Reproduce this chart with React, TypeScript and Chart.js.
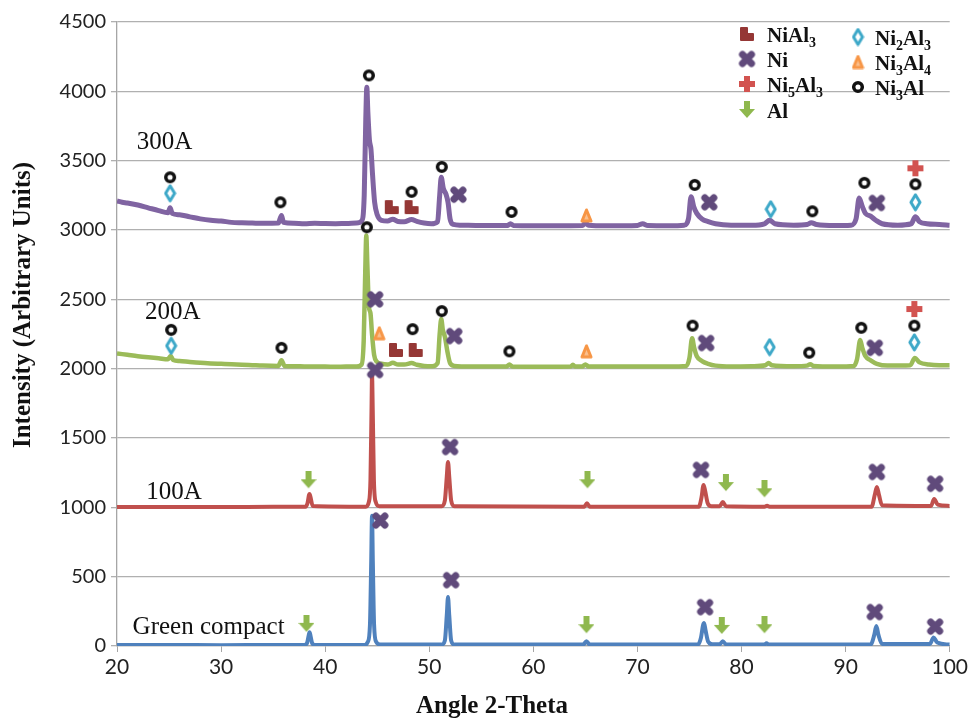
import React, { useEffect, useRef } from 'react';
import { Chart, registerables } from 'chart.js';
Chart.register(...registerables);

// ---------- Data (2-theta, intensity) ----------
const greenCompact: number[][] = [
  [20, 8], [25, 8], [30, 6], [35, 8], [38.0, 8], [38.25, 20], [38.4, 70], [38.5, 100], [38.6, 70], [38.75, 20], [39.0, 8],
  [43.8, 8], [44.1, 30], [44.3, 150], [44.42, 600], [44.5, 940], [44.58, 600], [44.7, 150], [44.9, 30], [45.3, 10],
  [51.2, 10], [51.5, 40], [51.68, 220], [51.8, 353], [51.92, 220], [52.1, 40], [52.4, 10],
  [64.8, 10], [65.1, 35], [65.4, 10], [75.8, 10], [76.1, 60], [76.3, 150], [76.4, 166], [76.55, 110], [76.8, 30], [77.2, 12],
  [77.9, 12], [78.2, 35], [78.5, 12], [82.2, 10], [82.4, 20], [82.6, 10],
  [92.4, 10], [92.75, 80], [92.95, 144], [93.15, 80], [93.5, 15], [98.1, 15], [98.45, 62], [98.8, 25], [100, 10],
];
const amp100: number[][] = [
  [20, 1003], [25, 1003], [30, 1002], [35, 1004], [38.1, 1004], [38.3, 1030], [38.45, 1090], [38.5, 1096], [38.6, 1070], [38.8, 1010],
  [43.9, 1005], [44.2, 1040], [44.35, 1200], [44.45, 1700], [44.5, 1960], [44.57, 1700], [44.68, 1200], [44.85, 1040], [45.2, 1008],
  [51.2, 1008], [51.5, 1050], [51.68, 1220], [51.8, 1327], [51.92, 1220], [52.1, 1050], [52.4, 1008],
  [64.9, 1005], [65.15, 1030], [65.4, 1005], [75.9, 1005], [76.15, 1070], [76.35, 1161], [76.5, 1120], [76.75, 1030], [77.1, 1008],
  [77.9, 1008], [78.2, 1038], [78.5, 1008], [82.2, 1005], [82.45, 1012], [82.7, 1005],
  [92.5, 1005], [92.8, 1090], [93.0, 1147], [93.2, 1090], [93.5, 1015], [98.2, 1010], [98.5, 1060], [98.85, 1020], [100, 1010],
];
const amp200: number[][] = [
  [20, 2110], [21, 2100], [22, 2090], [23, 2082], [24, 2075], [24.9, 2068], [25.15, 2092], [25.4, 2062], [26, 2055], [27, 2048],
  [28, 2042], [29, 2038], [30, 2035], [31, 2032], [32, 2028], [33, 2025], [34, 2022], [35.5, 2020], [35.8, 2060], [36.1, 2020],
  [37, 2018], [38, 2016], [39, 2015], [40, 2015], [41, 2014], [42, 2015], [43, 2015], [43.5, 2030], [43.7, 2200], [43.85, 2700],
  [43.95, 2960], [44.05, 2750], [44.2, 2450], [44.35, 2400], [44.5, 2250], [44.7, 2100], [44.95, 2050], [45.4, 2035], [46, 2030],
  [46.5, 2042], [47, 2030], [47.6, 2030], [48.3, 2040], [48.8, 2028], [49.5, 2020], [50.3, 2018], [50.8, 2040], [51.0, 2250],
  [51.15, 2358], [51.3, 2280], [51.5, 2230], [51.75, 2120], [52.0, 2040], [52.4, 2020], [54, 2015], [56, 2015], [57.4, 2015],
  [57.7, 2030], [58, 2015], [60, 2014], [62, 2014], [63.6, 2015], [63.8, 2028], [64.0, 2015], [64.7, 2016], [65.0, 2030],
  [65.3, 2016], [67, 2015], [70, 2016], [73, 2015], [74.7, 2020], [75.0, 2080], [75.25, 2220], [75.45, 2150], [75.7, 2090],
  [76.2, 2055], [76.8, 2035], [77.5, 2022], [79, 2016], [81, 2018], [82.3, 2025], [82.6, 2040], [82.9, 2025], [85, 2018],
  [86.3, 2022], [86.6, 2032], [86.9, 2020], [89, 2016], [90.8, 2020], [91.1, 2070], [91.4, 2207], [91.6, 2150], [91.9, 2090],
  [92.4, 2060], [93, 2035], [94, 2022], [96.2, 2025], [96.65, 2077], [97.1, 2045], [98, 2030], [99, 2025], [100, 2025],
];
const amp300: number[][] = [
  [20, 3210], [20.5, 3200], [21, 3195], [22, 3180], [23, 3160], [24, 3140], [24.9, 3125], [25.1, 3160], [25.3, 3120], [26, 3110],
  [27, 3095], [28, 3080], [29, 3070], [30, 3065], [31, 3055], [32, 3052], [33, 3050], [34, 3048], [35.5, 3050], [35.8, 3105],
  [36.0, 3055], [37, 3048], [38, 3045], [39, 3048], [40, 3046], [41, 3045], [42, 3047], [43, 3050], [43.5, 3065], [43.75, 3250],
  [43.9, 3800], [44.0, 4030], [44.1, 3850], [44.25, 3650], [44.4, 3580], [44.55, 3400], [44.75, 3200], [45.0, 3110], [45.4, 3070],
  [46.0, 3065], [46.5, 3078], [47.0, 3062], [47.6, 3060], [48.3, 3075], [48.8, 3062], [49.5, 3050], [50.2, 3045], [50.8, 3060],
  [51.0, 3250], [51.15, 3380], [51.35, 3300], [51.6, 3260], [51.8, 3200], [52.0, 3080], [52.3, 3040], [53, 3035], [55, 3032],
  [57.5, 3032], [57.8, 3045], [58.1, 3032], [60, 3030], [62, 3030], [64.7, 3032], [65.0, 3050], [65.3, 3035], [67, 3030],
  [70, 3033], [70.5, 3045], [71, 3032], [73, 3030], [74.5, 3035], [74.9, 3080], [75.15, 3240], [75.4, 3170], [75.7, 3120],
  [76.2, 3080], [76.8, 3060], [77.5, 3045], [79, 3035], [81, 3035], [82.2, 3045], [82.7, 3070], [83.2, 3045], [85, 3035],
  [86.3, 3040], [86.7, 3052], [87.2, 3040], [89, 3032], [90.5, 3035], [91.0, 3080], [91.3, 3230], [91.6, 3170], [91.9, 3120],
  [92.4, 3100], [92.9, 3070], [93.5, 3045], [95, 3035], [96.3, 3045], [96.7, 3095], [97.1, 3060], [97.8, 3045], [99, 3040], [100, 3035],
];

// Phase markers
const markNiAl3: number[][] = [[46.4, 3165], [48.3, 3165], [46.8, 2135], [48.7, 2135]];
const markNi: number[][] = [
  [52.8, 3255], [76.9, 3200], [93.0, 3195], [44.8, 2500], [52.4, 2235], [76.6, 2185], [92.8, 2150],
  [44.8, 1990], [52.0, 1435], [76.1, 1270], [93.0, 1255], [98.6, 1170],
  [45.3, 905], [52.1, 475], [76.5, 280], [92.8, 245], [98.6, 140],
];
const markNi5Al3: number[][] = [[96.7, 3445], [96.6, 2430]];
const markAl: number[][] = [[38.4, 1195], [65.2, 1195], [78.5, 1175], [82.2, 1130], [38.2, 160], [65.1, 150], [78.1, 145], [82.2, 150]];
const markNi2Al3: number[][] = [[25.1, 3265], [82.8, 3150], [96.7, 3200], [25.2, 2165], [82.7, 2155], [96.6, 2190]];
const markNi3Al4: number[][] = [[65.1, 3105], [65.1, 2125], [45.2, 2255]];
const markNi3Al: number[][] = [
  [25.1, 3380], [35.7, 3200], [44.2, 4115], [48.3, 3275], [51.2, 3455], [57.9, 3130], [75.5, 3325], [86.8, 3135], [91.8, 3340], [96.7, 3330],
  [44.0, 3020], [25.2, 2280], [35.8, 2150], [48.4, 2285], [51.2, 2415], [57.7, 2125], [75.3, 2310], [86.5, 2115], [91.5, 2295], [96.6, 2310],
];

const seriesNames = ['Green compact', '100A', '200A', '300A'];
const seriesColors = ['#4F81BD', '#C0504D', '#9BBB59', '#8064A2'];
const labelX = [21.5, 22.8, 22.7, 21.9];
const labelY = [137, 1110, 2409, 3634];

const legendNames = ['NiAl3', 'Ni', 'Ni5Al3', 'Al', 'Ni2Al3', 'Ni3Al4', 'Ni3Al'];

const xTitle = 'Angle 2-Theta';
const yTitle = 'Intensity (Arbitrary Units)';

// ---------- Marker icons ----------
function mk(w: number, h: number, draw: (c: CanvasRenderingContext2D) => void) {
  const c = document.createElement('canvas');
  c.width = w; c.height = h;
  const ctx = c.getContext('2d')!;
  draw(ctx);
  return c;
}
function makeIcons(): Record<string, HTMLCanvasElement> {
  return {
    NiAl3: mk(16, 16, (c) => {
      c.fillStyle = '#953735'; c.strokeStyle = '#953735'; c.lineJoin = 'round'; c.lineWidth = 2;
      c.beginPath(); c.moveTo(2, 2); c.lineTo(8, 2); c.lineTo(8, 8); c.lineTo(14, 8); c.lineTo(14, 14); c.lineTo(2, 14); c.closePath();
      c.fill(); c.stroke();
    }),
    Ni: mk(19, 19, (c) => {
      c.strokeStyle = '#604A7B'; c.lineWidth = 7; c.lineCap = 'round';
      c.beginPath(); c.moveTo(5, 5); c.lineTo(14, 14); c.moveTo(14, 5); c.lineTo(5, 14); c.stroke();
    }),
    Ni5Al3: mk(18, 18, (c) => {
      c.fillStyle = '#D25350';
      c.fillRect(6, 1, 6, 16); c.fillRect(1, 6, 16, 6);
    }),
    Al: mk(16, 18, (c) => {
      c.fillStyle = '#8FB84E';
      c.fillRect(5, 0, 6, 9);
      c.beginPath(); c.moveTo(0, 8); c.lineTo(16, 8); c.lineTo(8, 17); c.closePath(); c.fill();
    }),
    Ni2Al3: mk(13, 19, (c) => {
      c.strokeStyle = '#3DA8C8'; c.lineWidth = 3; c.lineJoin = 'round';
      c.beginPath(); c.moveTo(6.5, 2); c.lineTo(11, 9.5); c.lineTo(6.5, 17); c.lineTo(2, 9.5); c.closePath(); c.stroke();
    }),
    Ni3Al4: mk(13, 15, (c) => {
      c.strokeStyle = '#F79646'; c.fillStyle = '#FAC08F'; c.lineWidth = 3; c.lineJoin = 'round';
      c.beginPath(); c.moveTo(6.5, 2); c.lineTo(11, 13); c.lineTo(2, 13); c.closePath(); c.fill(); c.stroke();
    }),
    Ni3Al: mk(14, 14, (c) => {
      c.strokeStyle = '#111111'; c.lineWidth = 3.5;
      c.beginPath(); c.arc(7, 7, 4.3, 0, Math.PI * 2); c.stroke();
    }),
  };
}

const toXY = (a: number[][]) => a.map(([x, y]) => ({ x, y }));

function drawChem(ctx: CanvasRenderingContext2D, name: string, x: number, y: number) {
  const parts = name.match(/[A-Za-z]+|\d+/g) || [];
  let cx = x;
  for (const p of parts) {
    const sub = /\d/.test(p);
    ctx.font = sub ? 'bold 14px "Liberation Serif", serif' : 'bold 21px "Liberation Serif", serif';
    ctx.fillText(p, cx, sub ? y + 6 : y);
    cx += ctx.measureText(p).width;
  }
}

export default function App() {
  const ref = useRef<HTMLCanvasElement>(null);
  useEffect(() => {
    document.body.style.margin = '0';
    const icons = makeIcons();
    const markerSets: [string, number[][]][] = [
      ['NiAl3', markNiAl3], ['Ni', markNi], ['Ni5Al3', markNi5Al3], ['Al', markAl],
      ['Ni2Al3', markNi2Al3], ['Ni3Al4', markNi3Al4], ['Ni3Al', markNi3Al],
    ];
    const lines = [greenCompact, amp100, amp200, amp300];
    const widths = [4, 4, 4.5, 5];

    const overlay = {
      id: 'overlay',
      afterDraw(chart: any) {
        const ctx: CanvasRenderingContext2D = chart.ctx;
        const xs = chart.scales.x, ys = chart.scales.y;
        ctx.save();
        ctx.fillStyle = '#111';
        // series labels
        ctx.textAlign = 'left'; ctx.textBaseline = 'middle';
        ctx.font = '25px "Liberation Serif", serif';
        seriesNames.forEach((n, i) => ctx.fillText(n, xs.getPixelForValue(labelX[i]), ys.getPixelForValue(labelY[i])));
        // legend
        const leftRows = [37, 62, 87, 113];
        const rightRows = [40, 65, 90];
        legendNames.forEach((n, i) => {
          const left = i < 4;
          const rowY = left ? leftRows[i] : rightRows[i - 4];
          const ix = left ? 747 : 858;
          const tx = left ? 767 : 875;
          const ic = icons[n];
          ctx.drawImage(ic, ix - ic.width / 2, rowY - 3 - ic.height / 2);
          ctx.fillStyle = '#111';
          drawChem(ctx, n, tx, rowY);
        });
        // axis titles
        ctx.font = 'bold 25px "Liberation Serif", serif';
        ctx.textAlign = 'center'; ctx.textBaseline = 'middle';
        ctx.fillText(xTitle, 492, 707);
        ctx.translate(24, 305);
        ctx.rotate(-Math.PI / 2);
        ctx.fillText(yTitle, 0, 0);
        ctx.restore();
      },
    };

    const chart = new Chart(ref.current!, {
      type: 'scatter',
      data: {
        datasets: [
          ...markerSets.map(([n, d]) => ({
            label: n, data: toXY(d), pointStyle: icons[n] as any, pointRadius: 8, showLine: false, order: 0,
          })),
          ...lines.map((d, i) => ({
            label: seriesNames[i], data: toXY(d), showLine: true, pointRadius: 0, borderWidth: widths[i],
            borderColor: seriesColors[i], backgroundColor: seriesColors[i], cubicInterpolationMode: 'monotone' as const, order: 1,
          })),
        ],
      },
      options: {
        animation: false,
        responsive: true,
        maintainAspectRatio: false,
        layout: { padding: { left: 0, right: 18, top: 22, bottom: 0 } },
        plugins: { legend: { display: false }, tooltip: { enabled: false } },
        scales: {
          x: {
            type: 'linear', min: 20, max: 100,
            ticks: { stepSize: 10, color: '#222', font: { family: 'Lato', size: 21 }, padding: 3, callback: (v: any) => String(v) },
            grid: { drawOnChartArea: false, drawTicks: true, tickLength: 6, color: '#a6a6a6' },
            border: { display: true, color: '#a6a6a6', width: 1.3 },
            afterFit: (s: any) => { s.height = 74; },
          },
          y: {
            min: 0, max: 4500,
            ticks: { stepSize: 500, color: '#222', font: { family: 'Lato', size: 20 }, padding: 5, callback: (v: any) => String(v) },
            grid: { color: '#b0b0b0', lineWidth: 1.3, tickLength: 6 },
            border: { display: true, color: '#a6a6a6', width: 1.3 },
            afterFit: (s: any) => { s.width = 117; },
          },
        },
      },
      plugins: [overlay],
    });
    return () => chart.destroy();
  }, []);
  return (
    <div style={{ width: 971, height: 720, position: 'relative' }}>
      <canvas ref={ref} />
    </div>
  );
}
